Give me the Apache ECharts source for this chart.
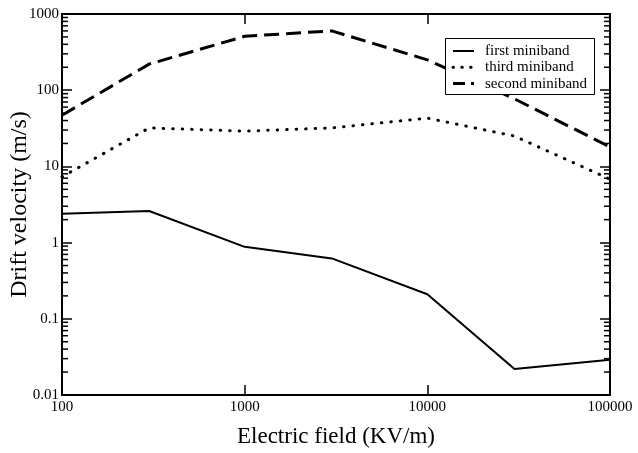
<!DOCTYPE html>
<html>
<head>
<meta charset="utf-8">
<script src="https://cdn.jsdelivr.net/npm/echarts@6/dist/echarts.min.js"></script>
<style>
  html, body { margin: 0; padding: 0; background: #fff; }
  #chart { width: 638px; height: 453px; }
</style>
</head>
<body>
<div id="chart"></div>
<script>
// Electric field values (KV/m) and drift velocities (m/s) for each miniband
const fieldKVm = [100, 300, 1000, 3000, 10000, 30000, 100000];
const firstMiniband = [2.4, 2.6, 0.88, 0.62, 0.21, 0.022, 0.029];
const thirdMiniband = [7.3, 32, 29, 32, 43, 25, 6.8];
const secondMiniband = [47, 220, 510, 600, 250, 77, 18];

const seriesNames = ['first miniband', 'third miniband', 'second miniband'];
const xTickLabels = ['100', '1000', '10000', '100000'];
const yTickLabels = ['0.01', '0.1', '1', '10', '100', '1000'];

// Minor tick values 2..9 within each decade of the velocity axis
const yDecades = [0.01, 0.1, 1, 10, 100];
const yMinorTicks = [];
yDecades.forEach(d => {
  for (let k = 2; k <= 9; k++) yMinorTicks.push([100, +(d * k).toPrecision(3)]);
});

const FONT = '"Liberation Serif", "DejaVu Serif", serif';

// line styles shared by the series and the legend samples
const styles = [
  { width: 2, dash: null, cap: 'butt' },
  { width: 3, dash: [0.5, 9], cap: 'round' },
  { width: 3, dash: [15, 7], cap: 'butt' }
];
const seriesData = [firstMiniband, thirdMiniband, secondMiniband];

function pairs(ys) { return fieldKVm.map((x, i) => [x, ys[i]]); }

const chart = echarts.init(document.getElementById('chart'), null, { renderer: 'canvas' });

const tickStyle = { color: '#000', width: 1.5 };
const axisLineStyle = { color: '#000', width: 2 };

// boxed legend in the upper right of the plot
const legendBox = { x: 445.5, y: 38.5, w: 149, h: 56, rowY: 51, rowStep: 16.3 };
const legendGraphics = [{
  type: 'rect', z: 100,
  shape: { x: legendBox.x, y: legendBox.y, width: legendBox.w, height: legendBox.h },
  style: { fill: '#fff', stroke: '#000', lineWidth: 1 }
}];
seriesNames.forEach((name, i) => {
  const y = legendBox.rowY + i * legendBox.rowStep;
  const s = styles[i];
  const ls = i === 1 ? [0.5, 8.3] : (i === 2 ? [12, 6] : null);
  legendGraphics.push({
    type: 'line', z: 101,
    shape: { x1: 453, y1: y, x2: 474, y2: y },
    style: { stroke: '#000', lineWidth: s.width, lineDash: ls, lineCap: s.cap }
  });
  legendGraphics.push({
    type: 'text', z: 101, x: 485, y: y,
    style: { text: name, font: '15px ' + FONT, fill: '#000', textVerticalAlign: 'middle', verticalAlign: 'middle' }
  });
});

chart.setOption({
  animation: false,
  backgroundColor: '#fff',
  grid: { left: 62, right: 28, top: 14, bottom: 58, containLabel: false, outerBoundsMode: 'none' },
  graphic: legendGraphics,
  xAxis: [{
    type: 'log', logBase: 10, min: 100, max: 100000,
    name: 'Electric field (KV/m)', nameLocation: 'middle', nameGap: 30, nameMoveOverlap: false,
    nameTextStyle: { fontFamily: FONT, fontSize: 23, color: '#000' },
    axisLine: { show: true, lineStyle: axisLineStyle },
    axisTick: { show: true, inside: true, length: 10, lineStyle: tickStyle },
    axisLabel: {
      fontFamily: FONT, fontSize: 15, color: '#000', margin: 5,
      formatter: v => xTickLabels.find(t => +t === Math.round(v)) || ''
    },
    splitLine: { show: false }
  }, {
    type: 'log', logBase: 10, min: 100, max: 100000, position: 'top',
    axisLine: { show: true, lineStyle: axisLineStyle },
    axisTick: { show: true, inside: true, length: 10, lineStyle: tickStyle },
    axisLabel: { show: false },
    splitLine: { show: false }
  }],
  yAxis: [{
    type: 'log', logBase: 10, min: 0.01, max: 1000,
    name: 'Drift velocity (m/s)', nameLocation: 'middle', nameGap: 30, nameMoveOverlap: false,
    nameTextStyle: { fontFamily: FONT, fontSize: 24, color: '#000' },
    axisLine: { show: true, lineStyle: axisLineStyle },
    axisTick: { show: true, inside: true, length: 10, lineStyle: tickStyle },
    axisLabel: {
      fontFamily: FONT, fontSize: 15, color: '#000', margin: 3,
      formatter: v => yTickLabels.find(t => Math.abs(+t - v) / +t < 1e-6) || ''
    },
    splitLine: { show: false }
  }, {
    type: 'log', logBase: 10, min: 0.01, max: 1000, position: 'right',
    axisLine: { show: true, lineStyle: axisLineStyle },
    axisTick: { show: true, inside: true, length: 10, lineStyle: tickStyle },
    axisLabel: { show: false },
    splitLine: { show: false }
  }],
  series: seriesNames.map((name, i) => ({
    name: name, type: 'line', data: pairs(seriesData[i]),
    symbol: 'none', color: '#000',
    lineStyle: { color: '#000', width: styles[i].width, type: styles[i].dash || 'solid', cap: styles[i].cap }
  })).concat([{
    // minor ticks on the left and right velocity axes
    type: 'custom', silent: true, xAxisIndex: 0, yAxisIndex: 0,
    data: yMinorTicks, encode: { x: 0, y: 1 }, clip: false,
    renderItem: (params, api) => {
      const cs = params.coordSys;
      const y = api.coord([100, api.value(1)])[1];
      const st = { stroke: '#000', lineWidth: 1.5 };
      return {
        type: 'group',
        children: [
          { type: 'line', shape: { x1: cs.x, y1: y, x2: cs.x + 6, y2: y }, style: st },
          { type: 'line', shape: { x1: cs.x + cs.width - 6, y1: y, x2: cs.x + cs.width, y2: y }, style: st }
        ]
      };
    }
  }])
});
</script>
</body>
</html>
